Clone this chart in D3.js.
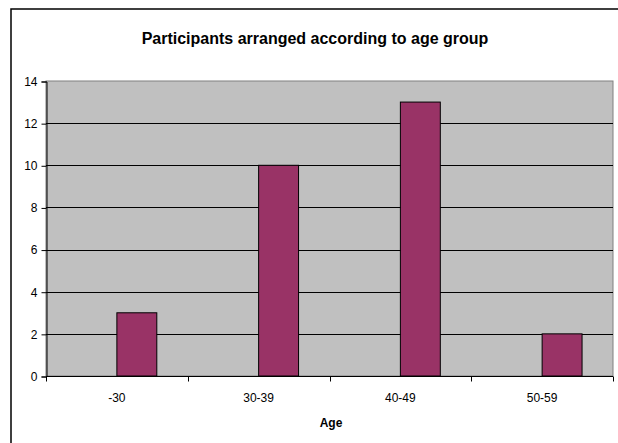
<!DOCTYPE html>
<html>
<head>
<meta charset="utf-8">
<script src="https://cdn.jsdelivr.net/npm/d3@7"></script>
<style>
  html, body { margin: 0; padding: 0; background: #fff; }
  svg { display: block; font-family: "Liberation Sans", Arial, sans-serif; }
</style>
</head>
<body>
<svg id="chart" width="618" height="443"></svg>
<script>
// Age groups and number of participants in each
const categories = ["-30", "30-39", "40-49", "50-59"];
const participants = [3, 10, 13, 2];
const yTicks = [0, 2, 4, 6, 8, 10, 12, 14];
// Two series slots per group; only the second one carries values
const seriesSlots = ["blank", "participants"];

const svg = d3.select("#chart");
const W = 618, H = 443;
const plot = { left: 46, top: 81, right: 613, bottom: 376 };

// Outer chart frame (runs off the right and bottom edges)
svg.append("rect")
  .attr("x", 11).attr("y", 9)
  .attr("width", W + 20).attr("height", H + 20)
  .attr("fill", "#fff").attr("stroke", "#000").attr("stroke-width", 1.5);

const x = d3.scaleBand().domain(categories)
  .range([plot.left, plot.right]).paddingInner(0).paddingOuter(0);
const xInner = d3.scaleBand().domain(seriesSlots)
  .range([0, x.bandwidth()]).paddingInner(0).paddingOuter(0.775);
const y = d3.scaleLinear().domain([0, 14]).range([plot.bottom, plot.top]);

// Plot area background
svg.append("rect")
  .attr("x", plot.left).attr("y", plot.top)
  .attr("width", plot.right - plot.left).attr("height", plot.bottom - plot.top)
  .attr("fill", "#c0c0c0").attr("stroke", "#808080").attr("stroke-width", 1);

// Horizontal gridlines
svg.append("g").selectAll("line")
  .data(yTicks.filter(t => t > 0 && t < 14))
  .join("line")
  .attr("x1", plot.left).attr("x2", plot.right)
  .attr("y1", d => Math.round(y(d)) + 0.5).attr("y2", d => Math.round(y(d)) + 0.5)
  .attr("stroke", "#000").attr("stroke-width", 1);

// Bars
svg.append("g").selectAll("rect")
  .data(participants)
  .join("rect")
  .attr("x", (d, i) => x(categories[i]) + xInner("participants"))
  .attr("y", d => y(d))
  .attr("width", xInner.bandwidth())
  .attr("height", d => plot.bottom - y(d))
  .attr("fill", "#993366").attr("stroke", "#000").attr("stroke-width", 1);

// Y axis
const yAxis = d3.axisLeft(y).tickValues(yTicks).tickSize(5).tickPadding(4)
  .tickFormat(d3.format("d"));
const gy = svg.append("g").attr("transform", `translate(${plot.left + 0.5},0.5)`).call(yAxis);
gy.select(".domain").attr("stroke", "#000");
gy.selectAll(".tick line").attr("stroke", "#000");
gy.selectAll(".tick text").attr("font-size", 12).attr("fill", "#000")
  .attr("font-family", "Liberation Sans, Arial, sans-serif");

// X axis: labels at group centres, tick marks at group boundaries
const gx = svg.append("g").attr("transform", `translate(0,${plot.bottom + 0.5})`);
gx.append("line")
  .attr("x1", plot.left).attr("x2", plot.right)
  .attr("stroke", "#000");
const boundaries = categories.map(c => x(c)).concat([x.range()[1]]);
gx.selectAll("line.tk").data(boundaries).join("line").attr("class", "tk")
  .attr("x1", d => Math.round(d) + 0.5).attr("x2", d => Math.round(d) + 0.5)
  .attr("y1", 0).attr("y2", 5).attr("stroke", "#000");
gx.selectAll("text").data(categories).join("text")
  .attr("x", d => x(d) + x.bandwidth() / 2)
  .attr("y", 25)
  .attr("text-anchor", "middle")
  .attr("font-size", 12).attr("fill", "#000")
  .text(d => d);

// Axis title
svg.append("text")
  .attr("x", 331).attr("y", 427)
  .attr("text-anchor", "middle")
  .attr("font-size", 12).attr("font-weight", "bold")
  .text("Age");

// Chart title
svg.append("text")
  .attr("x", 315).attr("y", 44)
  .attr("text-anchor", "middle")
  .attr("font-size", 16).attr("font-weight", "bold")
  .text("Participants arranged according to age group");
</script>
</body>
</html>
